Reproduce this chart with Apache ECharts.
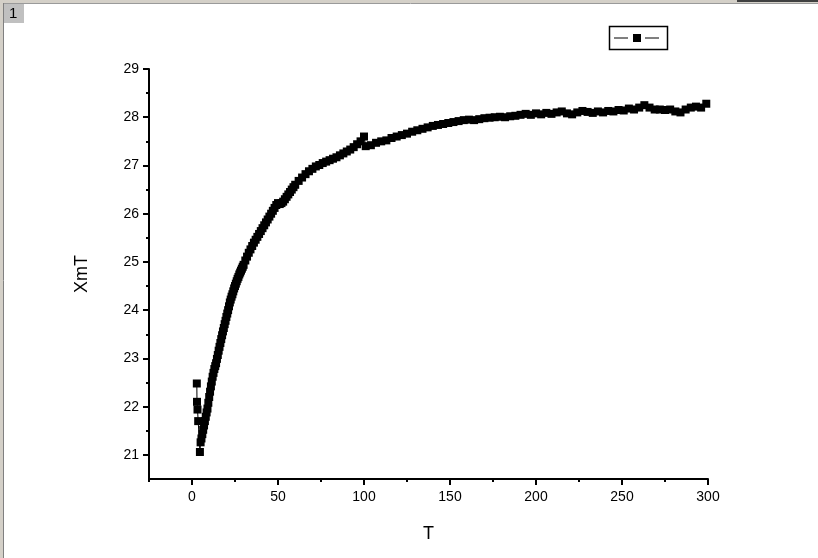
<!DOCTYPE html>
<html>
<head>
<meta charset="utf-8">
<script src="https://cdn.jsdelivr.net/npm/echarts@6/dist/echarts.min.js"></script>
<style>
html,body{margin:0;padding:0;background:#fff;}
#c{width:818px;height:558px;}
</style>
</head>
<body>
<div id="c"></div>
<script>
// Temperature (K)
var T = [2.8,2.9,3.2,3.6,4.6,
  5,5.5,6,6.5,7,7.5,8,8.5,9,9.5,10,10.5,11,11.5,12,12.5,13,13.5,14,14.5,15,15.5,16,16.5,17,17.5,
  18,18.5,19,19.5,20,20.5,21,21.5,22,22.5,23,23.5,24,24.5,25,25.5,26,26.5,27,27.5,28,28.5,29,29.5,30,
  31,32,33,34,35,36,37,38,39,40,41,42,43,44,45,46,47,48,49,50,51,52,53,54,55,56,57,58,59,60,
  62,64,66,68,70,72,74,76,78,80,82,84,86,88,90,92,94,96,98,100,
  101,104,107,110,113,116,119,122,125,128,131,134,137,140,143,146,149,152,155,158,
  161,164,167,170,173,176,179,182,185,188,191,194,197,200,203,206,209,212,215,218,
  221,224,227,230,233,236,239,242,245,248,251,254,257,260,263,266,269,272,275,278,
  281,284,287,290,293,296,299];
// XmT values
var XmT = [22.48,22.10,21.94,21.70,21.06,
  21.26,21.34,21.43,21.52,21.61,21.70,21.79,21.88,21.96,22.08,22.20,22.31,22.42,22.52,22.62,22.70,22.78,22.84,22.90,22.99,23.07,23.16,23.24,23.32,23.40,23.48,
  23.56,23.63,23.71,23.78,23.86,23.93,24.00,24.08,24.16,24.22,24.28,24.33,24.39,24.45,24.50,24.55,24.60,24.65,24.69,24.74,24.78,24.82,24.86,24.90,24.94,
  25.03,25.11,25.19,25.26,25.33,25.40,25.46,25.52,25.58,25.64,25.70,25.76,25.82,25.88,25.94,26.00,26.06,26.12,26.18,26.22,26.20,26.22,26.25,26.30,26.35,26.40,26.45,26.50,26.55,26.60,
  26.68,26.75,26.82,26.88,26.93,26.98,27.01,27.05,27.08,27.11,27.14,27.17,27.21,27.25,27.29,27.33,27.38,27.44,27.50,27.60,
  27.40,27.42,27.47,27.50,27.52,27.57,27.60,27.63,27.66,27.70,27.73,27.76,27.79,27.82,27.84,27.86,27.88,27.90,27.92,27.94,
  27.95,27.94,27.96,27.98,27.99,28.00,28.01,28.00,28.02,28.03,28.05,28.07,28.05,28.08,28.06,28.09,28.07,28.10,28.12,28.08,
  28.06,28.10,28.13,28.11,28.09,28.12,28.10,28.13,28.12,28.15,28.14,28.18,28.16,28.20,28.25,28.20,28.16,28.16,28.15,28.16,
  28.12,28.10,28.16,28.20,28.22,28.20,28.28];
var xMajor = [0,50,100,150,200,250,300];
var xMinor = [-25,25,75,125,175,225,275];
var yMajor = [21,22,23,24,25,26,27,28,29];
var yMinor = [21.5,22.5,23.5,24.5,25.5,26.5,27.5,28.5];

var data = T.map(function(t,i){return [t, XmT[i]];});
var font = '"Liberation Sans", Arial, sans-serif';

var chart = echarts.init(document.getElementById('c'), null, {renderer:'canvas'});
var axisLineStyle = {color:'#000', width:2};
chart.setOption({
  animation:false,
  backgroundColor:'#fff',
  grid:{left:149, right:110, top:69, bottom:79, containLabel:false},
  xAxis:[{
    type:'value', min:-25, max:300, position:'bottom',
    name:'T', nameLocation:'middle', nameGap:46,
    nameTextStyle:{fontFamily:font, fontSize:18, color:'#000'},
    axisLine:{show:true, onZero:false, lineStyle:axisLineStyle},
    axisTick:{show:true, inside:false, length:6, lineStyle:{color:'#000', width:2}, customValues:xMajor},
    axisLabel:{show:true, customValues:xMajor, fontFamily:font, fontSize:14, color:'#000', margin:11},
    splitLine:{show:false}
  },{
    type:'value', min:-25, max:300, position:'bottom',
    axisLine:{show:false, onZero:false},
    axisTick:{show:true, inside:false, length:3, lineStyle:{color:'#000', width:2}, customValues:xMinor},
    axisLabel:{show:false},
    splitLine:{show:false}
  }],
  yAxis:[{
    type:'value', min:20.5, max:29, position:'left',
    name:'XmT', nameLocation:'middle', nameGap:58, nameRotate:90,
    nameTextStyle:{fontFamily:font, fontSize:18, color:'#000'},
    axisLine:{show:true, onZero:false, lineStyle:axisLineStyle},
    axisTick:{show:true, inside:false, length:6, lineStyle:{color:'#000', width:2}, customValues:yMajor},
    axisLabel:{show:true, customValues:yMajor, fontFamily:font, fontSize:14, color:'#000', margin:10},
    splitLine:{show:false}
  },{
    type:'value', min:20.5, max:29, position:'left',
    axisLine:{show:false, onZero:false},
    axisTick:{show:true, inside:false, length:3, lineStyle:{color:'#000', width:2}, customValues:yMinor},
    axisLabel:{show:false},
    splitLine:{show:false}
  }],
  series:[{
    type:'line', xAxisIndex:0, yAxisIndex:0,
    data:data,
    symbol:'rect', symbolSize:8,
    itemStyle:{color:'#000'},
    lineStyle:{color:'#000', width:1},
    clip:false
  }],
  graphic:[
    {type:'rect', shape:{x:0,y:0,width:818,height:3}, style:{fill:'#d4d0c8'}, silent:true},
    {type:'line', shape:{x1:3,y1:3.5,x2:818,y2:3.5}, style:{stroke:'#9a9a9a', lineWidth:1}, silent:true},
    {type:'rect', shape:{x:737,y:0,width:81,height:2}, style:{fill:'#404040'}, silent:true},
    {type:'rect', shape:{x:0,y:0,width:3,height:558}, style:{fill:'#d4d0c8'}, silent:true},
    {type:'line', shape:{x1:3.5,y1:3,x2:3.5,y2:558}, style:{stroke:'#808080', lineWidth:1}, silent:true},
    {type:'rect', shape:{x:4,y:4,width:20,height:19}, style:{fill:'#c0c0c0'}, silent:true},
    {type:'text', x:9, y:6, style:{text:'1', font:'15px ' + font, fill:'#000'}, silent:true},
    {type:'rect', shape:{x:609.5,y:26.5,width:58,height:23}, style:{fill:'#fff', stroke:'#000', lineWidth:1.5}, silent:true},
    {type:'line', shape:{x1:614,y1:38,x2:628,y2:38}, style:{stroke:'#000', lineWidth:1}, silent:true},
    {type:'rect', shape:{x:633,y:34,width:8,height:8}, style:{fill:'#000'}, silent:true},
    {type:'line', shape:{x1:645,y1:38,x2:659,y2:38}, style:{stroke:'#000', lineWidth:1}, silent:true}
  ]
});
</script>
</body>
</html>
